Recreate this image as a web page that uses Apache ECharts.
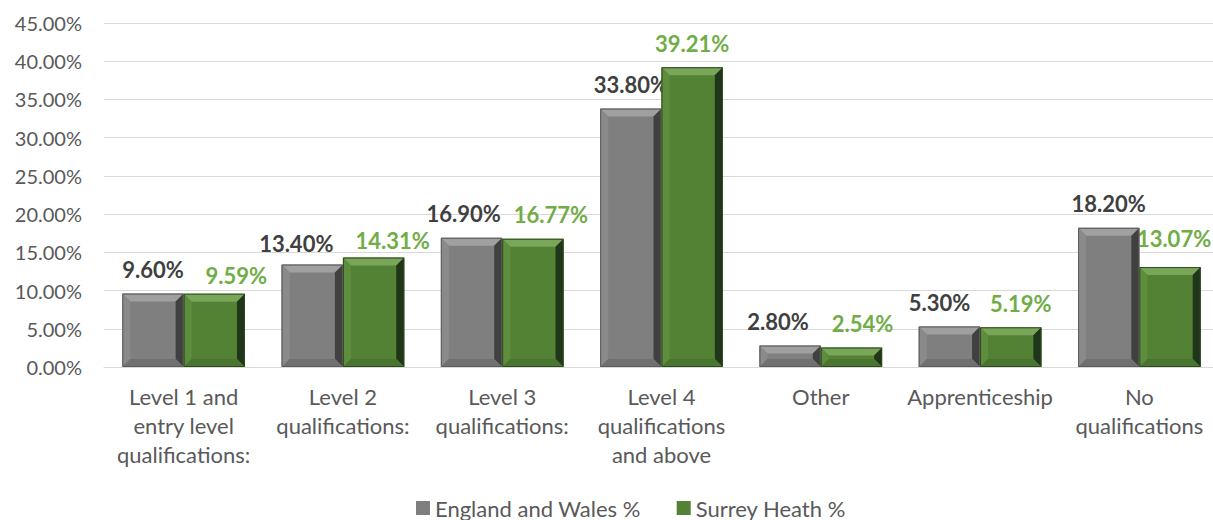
<!DOCTYPE html>
<html>
<head>
<meta charset="utf-8">
<script src="https://cdn.jsdelivr.net/npm/echarts@6/dist/echarts.min.js"></script>
<style>
html,body{margin:0;padding:0;background:#fff;}
#chart{width:1213px;height:520px;}
</style>
</head>
<body>
<div id="chart"></div>
<script>
// ---- data ----
const categories = [
  "Level 1 and\nentry level\nqualifications:",
  "Level 2\nqualifications:",
  "Level 3\nqualifications:",
  "Level 4\nqualifications\nand above",
  "Other",
  "Apprenticeship",
  "No\nqualifications"
];
const seriesNames = ["England and Wales %", "Surrey Heath %"];
const englandWales = [9.60, 13.40, 16.90, 33.80, 2.80, 5.30, 18.20];
const surreyHeath = [9.59, 14.31, 16.77, 39.21, 2.54, 5.19, 13.07];
const yTicks = { min: 0, max: 45, interval: 5 };

// ---- presentation (label nudges as in the reference layout) ----
const grayNudge = [[0,0],[-16,3],[-8,0],[0,0],[-12,0],[-10,0],[0,0]];
const greenNudge = [[22,6],[19,7],[18,0],[0,0],[11,0],[10,0],[4,-5]];

const FONT = 'Lato, "Open Sans", sans-serif';
const CAT_GAP = 0.23;

const palGray = {face:'#7f7f7f', top:'#a0a0a0', left:'#8a8a8a', right:'#404040', bottom:'#707070', line:'#5a5a5a', label:'#404040'};
const palGreen = {face:'#548235', top:'#79a659', left:'#5e8d3d', right:'#20361a', bottom:'#4a7530', line:'#2f4a1e', label:'#70ad47'};

function bevel(side, pal) {
  return function (params, api) {
    const idx = api.value(0), v = api.value(1);
    const catW = api.size([1, 0])[0];
    const bw = catW * (1 - CAT_GAP) / 2;
    const b = api.coord([idx, 0]);
    const t = api.coord([idx, v]);
    const x0 = side < 0 ? b[0] - bw : b[0];
    const x1 = x0 + bw;
    const y0 = t[1], y1 = b[1];
    const h = y1 - y0;
    const e = Math.min(8, h / 2, bw / 2);
    return {
      type: 'group',
      children: [
        {type:'polygon', shape:{points:[[x0,y0],[x1,y0],[x1-e,y0+e],[x0+e,y0+e]]}, style:{fill:pal.top}},
        {type:'polygon', shape:{points:[[x0,y0],[x0+e,y0+e],[x0+e,y1-e],[x0,y1]]}, style:{fill:pal.left}},
        {type:'polygon', shape:{points:[[x1,y0],[x1,y1],[x1-e,y1-e],[x1-e,y0+e]]}, style:{fill:pal.right}},
        {type:'polygon', shape:{points:[[x0,y1],[x0+e,y1-e],[x1-e,y1-e],[x1,y1]]}, style:{fill:pal.bottom}},
        {type:'rect', shape:{x:x0+0.5, y:y0+0.5, width:bw-1, height:Math.max(0,h-1)}, style:{fill:null, stroke:pal.line, lineWidth:1}}
      ]
    };
  };
}

function barData(vals, nudge) {
  return vals.map((v, i) => ({ value: v, label: { offset: nudge[i] } }));
}

const chart = echarts.init(document.getElementById('chart'), null, { renderer: 'svg' });
chart.setOption({
  animation: false,
  backgroundColor: '#ffffff',
  textStyle: { fontFamily: FONT },
  grid: { left: 104, width: 1115, top: 23, height: 344, containLabel: false, outerBoundsMode: 'none' },
  legend: {
    top: 492,
    left: 411,
    icon: 'rect',
    itemWidth: 14,
    itemHeight: 14,
    itemGap: 36,
    data: seriesNames,
    textStyle: { fontFamily: FONT, fontSize: 22, color: '#595959' }
  },
  xAxis: {
    type: 'category',
    data: categories,
    axisTick: { show: false },
    axisLine: { lineStyle: { color: '#d9d9d9', width: 1 } },
    axisLabel: { color: '#595959', fontSize: 22, lineHeight: 29, margin: 15, interval: 0, fontFamily: FONT }
  },
  yAxis: {
    type: 'value',
    min: yTicks.min, max: yTicks.max, interval: yTicks.interval,
    axisLine: { show: false },
    axisTick: { show: false },
    splitLine: { lineStyle: { color: '#d9d9d9', width: 1 } },
    axisLabel: { color: '#595959', fontSize: 20, margin: 22, fontFamily: FONT, formatter: v => v.toFixed(2) + '%' }
  },
  series: [
    {
      name: seriesNames[0], type: 'bar', barGap: '0%', barCategoryGap: (CAT_GAP*100)+'%',
      itemStyle: { color: palGray.face },
      data: barData(englandWales, grayNudge),
      label: { show: true, position: 'top', distance: 13, color: palGray.label, fontSize: 22, fontWeight: 'bold', fontFamily: FONT, formatter: p => p.value.toFixed(2) + '%' },
      z: 2
    },
    {
      name: seriesNames[1], type: 'bar', barGap: '0%', barCategoryGap: (CAT_GAP*100)+'%',
      itemStyle: { color: palGreen.face },
      data: barData(surreyHeath, greenNudge),
      label: { show: true, position: 'top', distance: 13, color: palGreen.label, fontSize: 22, fontWeight: 'bold', fontFamily: FONT, formatter: p => p.value.toFixed(2) + '%' },
      z: 2
    },
    {
      type: 'custom', silent: true, z: 3,
      renderItem: bevel(-1, palGray),
      data: englandWales.map((v, i) => [i, v]),
      encode: { x: 0, y: 1 }
    },
    {
      type: 'custom', silent: true, z: 3,
      renderItem: bevel(1, palGreen),
      data: surreyHeath.map((v, i) => [i, v]),
      encode: { x: 0, y: 1 }
    }
  ]
});
</script>
</body>
</html>
